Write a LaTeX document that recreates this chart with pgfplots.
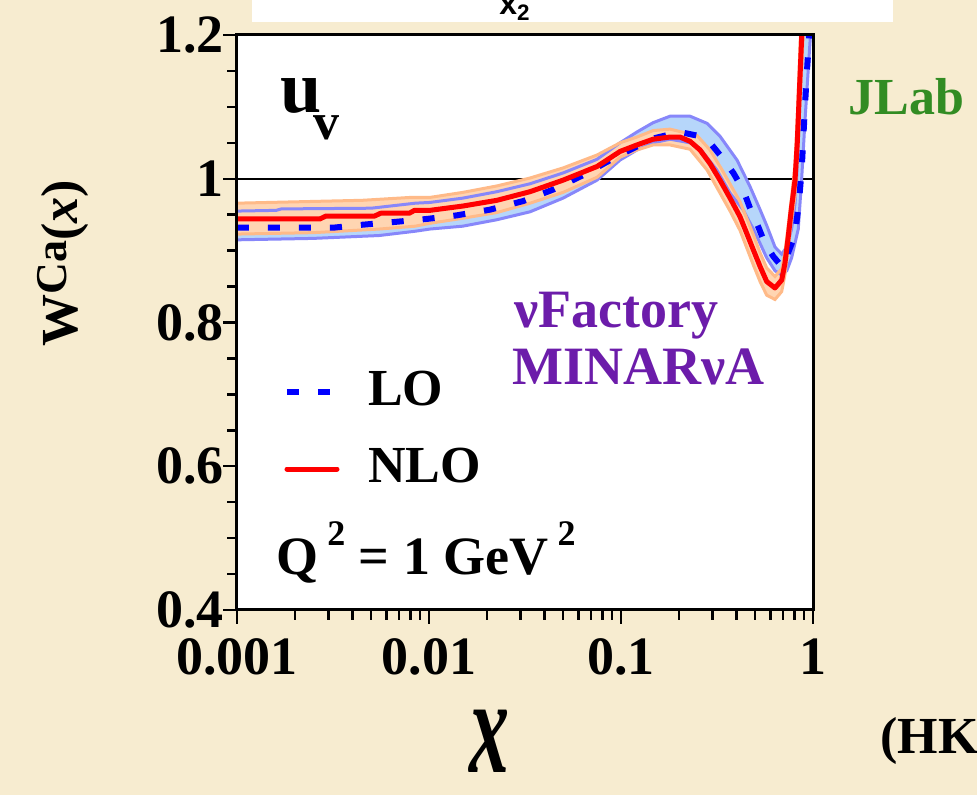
\documentclass[border=0pt]{standalone}
\usepackage{pgfplots}
\pgfplotsset{compat=1.18}
\usepackage{pgfplotstable}
\usepackage{fontspec}
\setmainfont{Liberation Serif}
\newfontfamily\sansfam{Liberation Sans}

\definecolor{bgparch}{RGB}{247,236,208}
\definecolor{lobandfill}{RGB}{182,214,250}
\definecolor{lobandedge}{RGB}{135,135,250}
\definecolor{nlobandfill}{RGB}{255,213,178}
\definecolor{nlobandedge}{RGB}{255,186,136}
\definecolor{jlabgreen}{RGB}{50,140,35}
\definecolor{nupurple}{RGB}{108,28,170}
\newcommand\fs[1]{\fontsize{#1}{#1}\selectfont}

% NLO central curve
\pgfplotstableread{
x y
0.001 0.944
0.0027 0.944
0.0029 0.948
0.0052 0.948
0.0056 0.952
0.0079 0.952
0.0084 0.956
0.0101 0.956
0.0150 0.962
0.0226 0.970
0.0336 0.982
0.0499 0.998
0.0750 1.017
0.0989 1.038
0.121 1.047
0.147 1.055
0.180 1.058
0.203 1.058
0.229 1.052
0.258 1.040
0.291 1.021
0.328 0.998
0.370 0.973
0.417 0.947
0.452 0.924
0.489 0.901
0.530 0.878
0.574 0.857
0.634 0.848
0.687 0.859
0.714 0.882
0.743 0.919
0.774 0.961
0.806 0.998
0.828 1.050
0.852 1.130
0.874 1.200
}\nlo

% LO central curve
\pgfplotstableread{
x y
0.001 0.932
0.0032 0.932
0.0045 0.936
0.0067 0.940
0.0097 0.944
0.0139 0.949
0.0208 0.957
0.0310 0.969
0.0444 0.985
0.0635 1.005
0.0952 1.031
0.147 1.056
0.203 1.065
0.249 1.060
0.291 1.050
0.328 1.033
0.385 1.008
0.432 0.985
0.470 0.959
0.519 0.933
0.562 0.910
0.621 0.892
0.687 0.878
0.730 0.892
0.806 0.922
0.845 0.968
0.873 1.012
0.891 1.059
0.908 1.100
0.927 1.144
0.957 1.200
}\lo

% LO uncertainty band: upper edge left to right, then lower edge right to left
\pgfplotstableread{
x y
0.001 0.955
0.0016 0.956
0.0017 0.958
0.0050 0.959
0.0085 0.966
0.0101 0.967
0.0150 0.973
0.0226 0.982
0.0336 0.993
0.0499 1.008
0.0750 1.027
0.0989 1.050
0.121 1.065
0.147 1.078
0.180 1.087
0.229 1.087
0.281 1.077
0.328 1.059
0.402 1.026
0.470 0.989
0.530 0.957
0.574 0.935
0.634 0.905
0.687 0.895
0.730 0.905
0.774 0.930
0.806 0.965
0.822 1.000
0.845 1.080
0.870 1.200
0.970 1.200
0.908 1.080
0.873 1.000
0.838 0.930
0.774 0.890
0.730 0.872
0.687 0.866
0.634 0.872
0.574 0.890
0.530 0.910
0.489 0.930
0.432 0.957
0.370 0.980
0.316 1.012
0.258 1.042
0.229 1.050
0.180 1.055
0.147 1.050
0.121 1.040
0.0989 1.026
0.0750 0.998
0.0499 0.973
0.0336 0.954
0.0226 0.943
0.0150 0.934
0.0101 0.930
0.0085 0.927
0.0055 0.921
0.0025 0.917
0.001 0.915
}\loband

% NLO uncertainty band: upper edge left to right, then lower edge right to left
\pgfplotstableread{
x y
0.001 0.966
0.0045 0.970
0.0080 0.974
0.0101 0.974
0.0150 0.981
0.0226 0.990
0.0336 1.001
0.0499 1.015
0.0750 1.033
0.0989 1.050
0.121 1.058
0.147 1.067
0.180 1.069
0.249 1.060
0.291 1.040
0.340 1.010
0.417 0.968
0.489 0.922
0.530 0.897
0.574 0.876
0.634 0.864
0.687 0.875
0.714 0.897
0.743 0.935
0.774 0.975
0.806 1.020
0.830 1.090
0.860 1.200
0.890 1.200
0.860 1.120
0.830 1.030
0.806 0.975
0.774 0.945
0.743 0.903
0.714 0.866
0.687 0.843
0.634 0.832
0.574 0.838
0.530 0.857
0.489 0.880
0.417 0.928
0.370 0.955
0.328 0.980
0.281 1.012
0.229 1.041
0.180 1.047
0.147 1.047
0.121 1.040
0.0989 1.030
0.0750 1.002
0.0499 0.981
0.0336 0.966
0.0226 0.953
0.0150 0.945
0.0101 0.938
0.0085 0.934
0.0055 0.930
0.0025 0.925
0.001 0.923
}\nloband

\begin{document}
\begin{tikzpicture}
\fill[bgparch] (-118.5pt,-92.5pt) rectangle (370pt,305pt);
% header box
\fill[white] (7.5pt,294pt) rectangle (328pt,310pt);
\node[anchor=base, inner sep=0pt] at (139pt,297.5pt) {\sansfam\fs{16}\bfseries x\textsubscript{2}};

\begin{axis}[
  at={(0,0)}, anchor=south west,
  scale only axis, width=288pt, height=287.5pt,
  xmode=log, xmin=0.001, xmax=1, ymin=0.4, ymax=1.2,
  axis background/.style={fill=white},
  axis on top,
  axis line style={line width=1.5pt, black},
  xtick={0.001,0.01,0.1,1},
  xticklabels={0.001,0.01,0.1,1},
  minor xtick={0.002,0.003,0.004,0.005,0.006,0.007,0.008,0.009,
               0.02,0.03,0.04,0.05,0.06,0.07,0.08,0.09,
               0.2,0.3,0.4,0.5,0.6,0.7,0.8,0.9},
  ytick={0.4,0.6,0.8,1,1.2},
  yticklabels={0.4,0.6,0.8,1,1.2},
  minor ytick={0.45,0.5,0.55,0.65,0.7,0.75,0.85,0.9,0.95,1.05,1.1,1.15},
  xtick pos=bottom, ytick pos=left,
  tick align=outside,
  major tick length=7pt, minor tick length=5pt,
  tick style={line width=1.2pt, black},
  ticklabel style={font=\fs{27}\bfseries},
  xticklabel style={anchor=north, yshift=-4pt},
  yticklabel style={anchor=east, xshift=4pt},
  legend style={at={(rel axis cs:0.0816,0.419)}, anchor=north west,
    draw=none, fill=none, inner sep=0pt, outer sep=0pt,
    font=\fs{26}\bfseries, row sep=20.5pt, column sep=14pt,
    nodes={inner sep=0pt, text height=18pt, text depth=0pt}},
  legend cell align=left,
  legend image code/.code={\draw[#1] (0pt,-2.5pt) -- (25pt,-2.5pt);},
]
\addplot[black, line width=1pt, forget plot] coordinates {(0.001,1) (1,1)};

\addplot[fill=lobandfill, draw=none, forget plot] table {\loband};
\addplot[fill=nlobandfill, draw=none, forget plot] table {\nloband};
\addplot[lobandedge, line width=1.5pt, forget plot] table {\loband};
\addplot[nlobandedge, line width=1.5pt, forget plot] table {\nloband};

\addplot[blue, line width=3pt, dash pattern=on 6pt off 9.5pt] table {\lo};
\addlegendentry{LO}
\addplot[red, line width=2.5pt, line cap=round, line join=round] table {\nlo};
\addlegendentry{NLO}
\end{axis}

% annotations
\node[anchor=base west, inner sep=0pt] at (21.5pt,248.5pt) {\fs{37}\bfseries u};
\node[anchor=base west, inner sep=0pt] at (38pt,235pt) {\fs{26}\bfseries v};
\node[anchor=base west, inner sep=0pt, text=nupurple] at (138.5pt,141pt) {\fs{27}\bfseries νFactory};
\node[anchor=base west, inner sep=0pt, text=nupurple] at (137.5pt,112.5pt) {\fs{27}\bfseries MINARνA};
\node[anchor=base west, inner sep=0pt, text=jlabgreen] at (305.5pt,247.5pt) {\fs{26}\bfseries JLab};
\node[anchor=base west, inner sep=0pt] at (19.5pt,17.5pt) {\fs{27}\bfseries Q\,\raisebox{0.55em}{\fs{18}2} = 1 GeV\,\raisebox{0.55em}{\fs{18}2}};
\node[anchor=base west, inner sep=0pt] at (321.5pt,-71.5pt) {\fs{26}\bfseries (HKN07)};
\node[anchor=base, inner sep=0pt] at (126pt,-81pt) {\scalebox{1}[1.7]{\fs{40}\bfseries\itshape x}};
\node[rotate=90, inner sep=0pt] at (-87pt,173.5pt) {\fs{26}\bfseries W\raisebox{0.2em}{\fs{22}Ca}(\textit{x})};

% page frame
\pgfresetboundingbox
\path[use as bounding box] (-118.5pt,-92.5pt) rectangle (370pt,305pt);
\end{tikzpicture}
\end{document}
